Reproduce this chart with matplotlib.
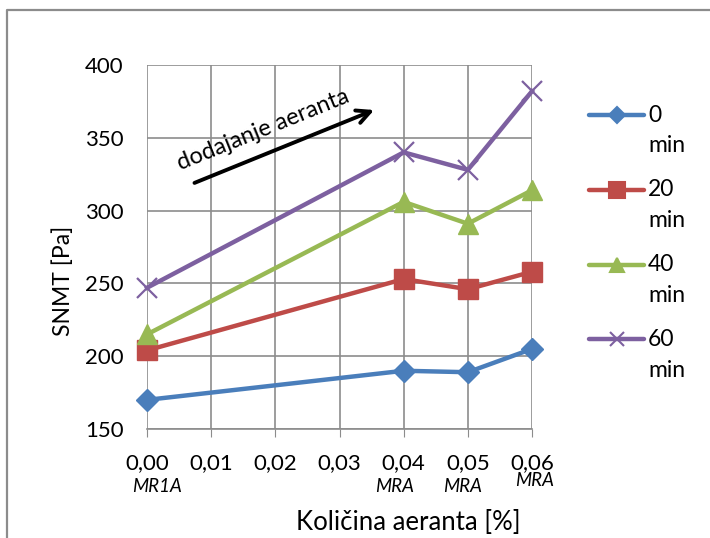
import matplotlib
matplotlib.use("Agg")
import matplotlib.pyplot as plt
from matplotlib.lines import Line2D

plt.rcParams['font.family'] = ['Lato', 'DejaVu Sans']

x = [0.00, 0.04, 0.05, 0.06]
series_names = ["0", "20", "40", "60"]
s0 = [170, 190, 189, 205]
s20 = [204, 253, 246, 258]
s40 = [215, 306, 291, 314]
s60 = [247, 340, 328, 382]
colors = ["#4a7ebb", "#be4b48", "#98b954", "#7d60a0"]
markers = ["D", "s", "^", "x"]
xticks = [0.00, 0.01, 0.02, 0.03, 0.04, 0.05, 0.06]
xticklabels = ["0,00", "0,01", "0,02", "0,03", "0,04", "0,05", "0,06"]
sub_labels = ["MR1A", "MRA", "MRA", "MRA"]
yticks = [150, 200, 250, 300, 350, 400]

W, H = 710, 538
def fx(px): return px / W
def fy(py): return 1 - py / H

fig = plt.figure(figsize=(7.1, 5.38), dpi=100)
ax = fig.add_axes([fx(147), fy(429), (532 - 147) / W, (429 - 65) / H])

msizes = {"D": 11, "s": 15, "^": 15, "x": 14}
for ys, c, m in zip([s0, s20, s40, s60], colors, markers):
    ax.plot(x, ys, color=c, lw=3.2, marker=m, ms=msizes[m],
            mew=1.6 if m == "x" else 1, clip_on=False, zorder=3)

ax.set_xlim(0, 0.06)
ax.set_ylim(150, 400)
ax.set_xticks(xticks)
ax.set_xticklabels(xticklabels)
ax.set_yticks(yticks)
ax.grid(True, color="#8c8c8c", lw=1.2)
ax.set_axisbelow(True)
for s in ["top", "right", "left"]:
    ax.spines[s].set_visible(False)
ax.spines["bottom"].set_color("#8c8c8c")
ax.spines["bottom"].set_linewidth(1.2)
ax.tick_params(axis="x", direction="out", length=6, color="#8c8c8c", labelsize=16, pad=11)
ax.tick_params(axis="y", length=0, labelsize=16, pad=17)

# italic sub-labels under x ticks (pixel placement from the reference)
sub_pos = [(157, 487), (395, 487), (463, 487), (535, 481)]
for t, (px, py) in zip(sub_labels, sub_pos):
    fig.text(fx(px), fy(py), t, ha="center", va="center", fontsize=13.5, style="italic")

fig.text(fx(408), fy(523), "Količina aeranta [%]", ha="center", va="center", fontsize=18.5)
fig.text(fx(63), fy(281), "SNMT [Pa]", ha="center", va="center", fontsize=16.5, rotation=90)

ax.annotate("", xy=(0.0358, 369.8), xytext=(0.0070, 318.3),
            arrowprops=dict(arrowstyle="->", lw=2.8, color="black", mutation_scale=24))
ax.text(0.0181, 355.4, "dodajanje aeranta", rotation=22, ha="center", va="center", fontsize=17)

# legend (manual, matching reference layout)
lms = {"D": 8, "s": 11, "^": 10, "x": 10}
for i, (name, c, m) in enumerate(zip(series_names, colors, markers)):
    y0 = 115 + 74.8 * i
    fig.add_artist(Line2D([fx(589), fx(644)], [fy(y0), fy(y0)], color=c, lw=3.2,
                          solid_capstyle="round", transform=fig.transFigure))
    fig.add_artist(Line2D([fx(616.5)], [fy(y0)], color=c, marker=m, ms=lms[m], mew=1.5,
                          transform=fig.transFigure))
    fig.text(fx(648), fy(y0), name, ha="left", va="center", fontsize=16.5)
    fig.text(fx(648), fy(y0 + 31), "min", ha="left", va="center", fontsize=16.5)

# chart border (top and left edges visible in the reference)
fig.add_artist(Line2D([fx(7), fx(7), fx(W + 5)], [fy(H + 5), fy(10), fy(10)],
                      color="#8c8c8c", lw=1.6, transform=fig.transFigure))

fig.savefig("out.png", dpi=100)
